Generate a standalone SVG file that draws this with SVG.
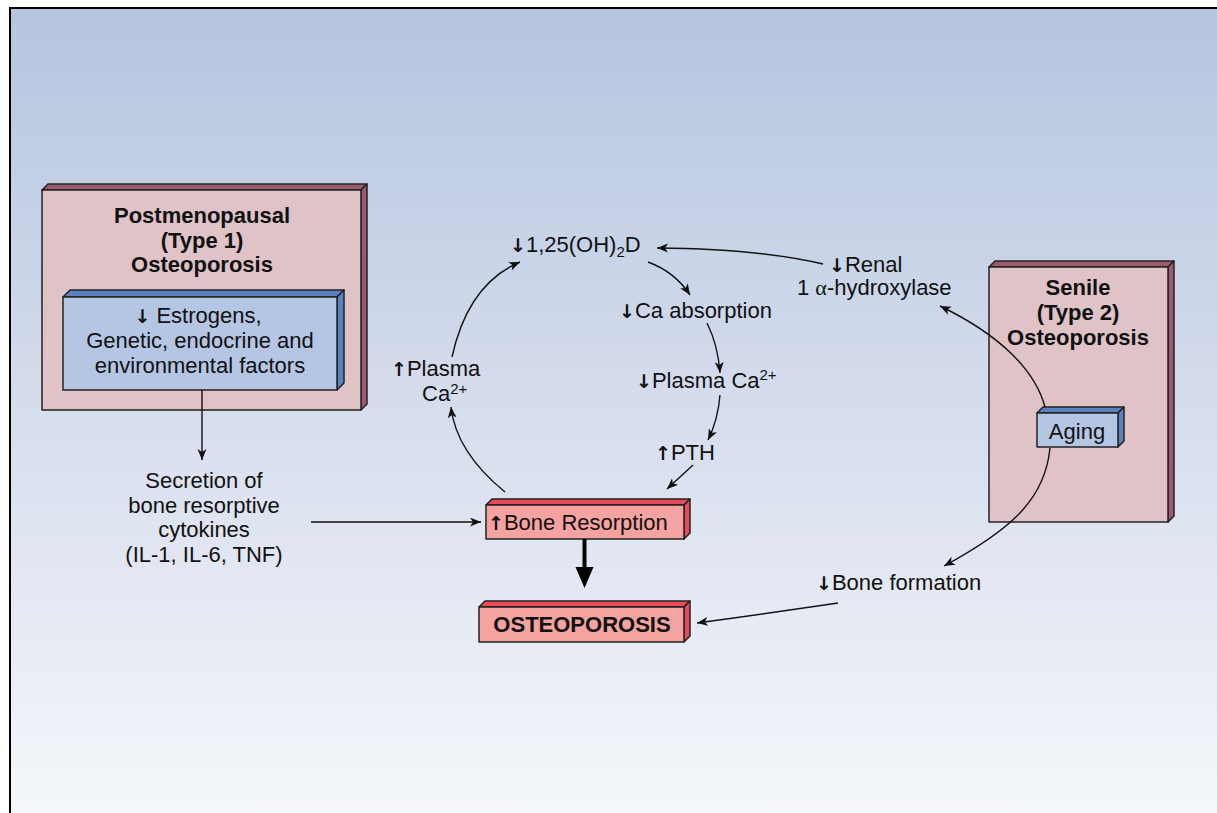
<svg xmlns="http://www.w3.org/2000/svg" width="1217" height="813" viewBox="0 0 1217 813">
<defs>
<linearGradient id="bg" x1="0" y1="0" x2="0" y2="1">
<stop offset="0" stop-color="#b5c5e0"/>
<stop offset="0.5" stop-color="#d6dded"/>
<stop offset="1" stop-color="#f5f7fa"/>
</linearGradient>
<marker id="ah" markerWidth="12" markerHeight="10" refX="11" refY="4.5" orient="auto" markerUnits="userSpaceOnUse">
<path d="M0,0 L11,4.5 L0,9 L3,4.5 z" fill="#111"/>
</marker>
<style>
.t{font-family:"Liberation Sans",Arial,sans-serif;font-size:22px;fill:#111}
.b{font-weight:bold}
.m{text-anchor:middle}
.ar{font-family:"DejaVu Sans",sans-serif;font-weight:bold;font-size:19px}
.con{fill:none;stroke:#111;stroke-width:1.4;marker-end:url(#ah)}
.edge{stroke:#222;stroke-width:1.5;stroke-linejoin:round}
.pinkF{fill:#dfc3c7}.pinkS{fill:#9c5a6f}
.blueF{fill:#b4c6e4}.blueS{fill:#5a82bf}
.redF{fill:#f4a3a0}.redS{fill:#e84a57}
</style>
</defs>
<rect x="0" y="0" width="1217" height="813" fill="#fff"/>
<rect x="10" y="8" width="1212" height="810" fill="url(#bg)" stroke="#000" stroke-width="2"/>

<g id="node-postmenopausal">
<polygon class="pinkS edge" points="42,190 48,184 367,184 361,190"/>
<polygon class="pinkS edge" points="361,190 367,184 367,404 361,410"/>
<rect class="pinkF edge" x="42" y="190" width="319" height="220"/>
<text class="t b m" x="202" y="223">Postmenopausal</text>
<text class="t b m" x="202" y="248">(Type 1)</text>
<text class="t b m" x="202" y="272">Osteoporosis</text>
</g>
<g id="node-estrogens">
<polygon class="blueS edge" points="63,297 70,290 344,290 337,297"/>
<polygon class="blueS edge" points="337,297 344,290 344,383 337,390"/>
<rect class="blueF edge" x="63" y="297" width="274" height="93"/>
<text class="t m" x="198" y="323"><tspan class="ar">↓</tspan> Estrogens,</text>
<text class="t m" x="200" y="348">Genetic, endocrine and</text>
<text class="t m" x="200" y="373">environmental factors</text>
</g>
<g id="node-senile">
<polygon class="pinkS edge" points="989,267 995,261 1174,261 1168,267"/>
<polygon class="pinkS edge" points="1168,267 1174,261 1174,516 1168,522"/>
<rect class="pinkF edge" x="989" y="267" width="179" height="255"/>
<text class="t b m" x="1078" y="295">Senile</text>
<text class="t b m" x="1078" y="320">(Type 2)</text>
<text class="t b m" x="1078" y="345">Osteoporosis</text>
</g>
<g id="node-aging">
<polygon class="blueS edge" points="1037,413 1043,407 1124,407 1118,413"/>
<polygon class="blueS edge" points="1118,413 1124,407 1124,441 1118,447"/>
<rect class="blueF edge" x="1037" y="413" width="81" height="34"/>
<text class="t m" x="1077" y="439">Aging</text>
</g>
<g id="node-bone-resorption">
<polygon class="redS edge" points="486,505 492,499 690,499 684,505"/>
<polygon class="redS edge" points="684,505 690,499 690,533 684,539"/>
<rect class="redF edge" x="486" y="505" width="198" height="34"/>
<text class="t" x="488" y="530"><tspan class="ar">↑</tspan>Bone Resorption</text>
</g>
<g id="node-osteoporosis">
<polygon class="redS edge" points="479,607 485,601 690,601 684,607"/>
<polygon class="redS edge" points="684,607 690,601 690,636 684,642"/>
<rect class="redF edge" x="479" y="607" width="205" height="35"/>
<text class="t b m" x="582" y="632">OSTEOPOROSIS</text>
</g>
<g id="node-secretion">
<text class="t m" x="204" y="488">Secretion of</text>
<text class="t m" x="204" y="513">bone resorptive</text>
<text class="t m" x="204" y="537">cytokines</text>
<text class="t m" x="204" y="562">(IL-1, IL-6, TNF)</text>
</g>
<g id="node-vitd">
<text class="t" x="510" y="252"><tspan class="ar">↓</tspan>1,25(OH)<tspan font-size="15" dy="5">2</tspan><tspan dy="-5">D</tspan></text>
</g>
<g id="node-ca-absorption">
<text class="t" x="619" y="318"><tspan class="ar">↓</tspan>Ca absorption</text>
</g>
<g id="node-plasma-ca-down">
<text class="t" x="636" y="388"><tspan class="ar">↓</tspan>Plasma Ca<tspan font-size="15" dy="-8">2+</tspan></text>
</g>
<g id="node-pth">
<text class="t" x="655" y="460"><tspan class="ar">↑</tspan>PTH</text>
</g>
<g id="node-plasma-ca-up">
<text class="t" x="391" y="376"><tspan class="ar">↑</tspan>Plasma</text>
<text class="t" x="422" y="401">Ca<tspan font-size="15" dy="-7">2+</tspan></text>
</g>
<g id="node-renal">
<text class="t" x="829" y="272"><tspan class="ar">↓</tspan>Renal</text>
<text class="t" x="797" y="295">1 <tspan font-family="Liberation Serif, serif">α</tspan>-hydroxylase</text>
</g>
<g id="node-bone-formation">
<text class="t" x="816" y="590"><tspan class="ar">↓</tspan>Bone formation</text>
</g>

<g id="connectors">
<path class="con" d="M202,390 L202,460"/>
<path class="con" d="M311,522 L481,522"/>
<path class="con" d="M505,492 Q456,452 451,407"/>
<path class="con" d="M452,357 Q468,284 520,262"/>
<path class="con" d="M648,262 Q675,272 690,295"/>
<path class="con" d="M707,323 Q718,345 720,373"/>
<path class="con" d="M720,395 Q718,420 708,440"/>
<path class="con" d="M693,465 L667,489"/>
<path class="con" d="M823,264 Q760,249 657,248"/>
<path class="con" d="M1045,407 C1035,370 1000,335 940,306"/>
<path class="con" d="M1050,448 C1045,500 1010,530 944,566"/>
<path class="con" d="M838,603 Q763,614 697,623"/>
<line x1="584.5" y1="539" x2="584.5" y2="569" stroke="#000" stroke-width="4"/>
<polygon points="575.5,567 593.5,567 584.5,588" fill="#000"/>
</g>
</svg>
